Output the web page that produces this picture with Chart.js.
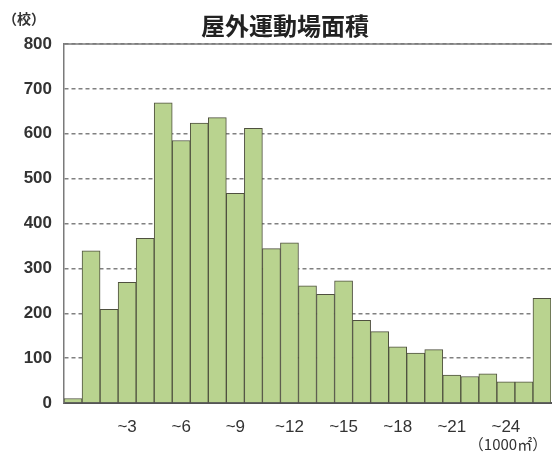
<!DOCTYPE html>
<html>
<head>
<meta charset="utf-8">
<script src="https://cdn.jsdelivr.net/npm/chart.js@4.4.0/dist/chart.umd.min.js"></script>
<style>
  html, body { margin: 0; padding: 0; background: #fff; }
  #wrap { width: 552px; height: 454px; }
</style>
</head>
<body>
<div id="wrap"><canvas id="area"></canvas></div>
<script>
const titleText = "屋外運動場面積";
const yUnit = "（校）";
const xUnit = "（1000㎡）";
const categories = ["~0", "~1", "~2", "~3", "~4", "~5", "~6", "~7", "~8", "~9",
  "~10", "~11", "~12", "~13", "~14", "~15", "~16", "~17", "~18", "~19",
  "~20", "~21", "~22", "~23", "~24", "~25", "25~"];
const schools = [10, 339, 209, 269, 367, 669, 585, 624, 636, 467,
  612, 344, 357, 261, 242, 272, 184, 159, 125, 111,
  119, 62, 59, 65, 47, 47, 233];
const tickLabels = ["~3", "~6", "~9", "~12", "~15", "~18", "~21", "~24"];
const yTicks = [0, 100, 200, 300, 400, 500, 600, 700, 800];

const labelFont = "'Liberation Sans Narrow', 'Liberation Sans', Arial, sans-serif";

// extra texts: title, unit labels, frame line on top
const extras = {
  id: "extras",
  afterDraw(chart) {
    const ctx = chart.ctx;
    const a = chart.chartArea;
    ctx.save();
    ctx.strokeStyle = "#7a7a7a";
    ctx.lineWidth = 1.5;
    ctx.beginPath();
    ctx.moveTo(a.left, a.top);
    ctx.lineTo(a.right + 2, a.top);
    ctx.stroke();
    ctx.fillStyle = "#222";
    ctx.textAlign = "center";
    ctx.textBaseline = "middle";
    ctx.font = "bold 24px 'Noto Sans CJK JP', sans-serif";
    ctx.fillText(titleText, 285, 26);
    ctx.fillStyle = "#333";
    ctx.font = "bold 14px 'Noto Sans CJK JP', sans-serif";
    ctx.fillText(yUnit, 24, 19);
    ctx.font = "15px 'Noto Sans CJK JP', sans-serif";
    ctx.fillText(xUnit, 508, 444);
    ctx.restore();
  }
};

new Chart(document.getElementById("area"), {
  type: "bar",
  data: {
    labels: categories,
    datasets: [{
      data: schools,
      backgroundColor: "#b9d38f",
      borderColor: "#4f503f",
      borderWidth: 1,
      barPercentage: 1,
      categoryPercentage: 1,
    }],
  },
  plugins: [extras],
  options: {
    responsive: true,
    maintainAspectRatio: false,
    animation: false,
    layout: { padding: { top: 44, left: 0, right: 1, bottom: 0 } },
    plugins: {
      legend: { display: false },
      tooltip: { enabled: false },
      title: { display: false },
    },
    scales: {
      x: {
        grid: { display: false },
        border: { color: "#555", width: 2 },
        afterFit: (scale) => { scale.height = 51; },
        ticks: {
          autoSkip: false,
          maxRotation: 0,
          padding: 6,
          color: "#333",
          font: { family: labelFont, size: 17 },
          callback: function (value) {
            const lab = categories[value];
            return tickLabels.includes(lab) ? lab : "";
          },
        },
      },
      y: {
        min: 0,
        max: 800,
        afterFit: (scale) => { scale.width = 64; },
        afterBuildTicks: (scale) => { scale.ticks = yTicks.map(v => ({ value: v })); },
        grid: {
          color: "#808080",
          lineWidth: 1.5,
          drawTicks: false,
        },
        border: { color: "#7a7a7a", width: 1.5, dash: [4, 3] },
        ticks: {
          padding: 12,
          color: "#333",
          font: { family: labelFont, size: 17, weight: "bold" },
        },
      },
    },
  },
});
</script>
</body>
</html>
